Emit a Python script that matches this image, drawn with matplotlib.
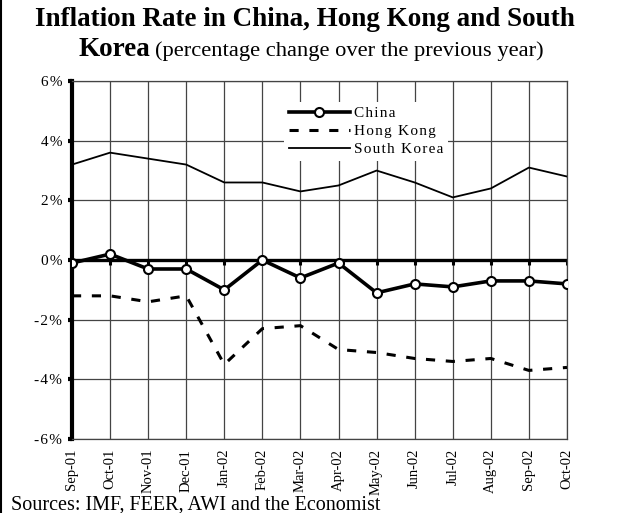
import numpy as np
import matplotlib
matplotlib.use("Agg")
import matplotlib.pyplot as plt
from matplotlib.lines import Line2D

# =========================
# Data
# =========================
months = ["Sep-01", "Oct-01", "Nov-01", "Dec-01", "Jan-02", "Feb-02", "Mar-02",
          "Apr-02", "May-02", "Jun-02", "Jul-02", "Aug-02", "Sep-02", "Oct-02"]
china = [-0.1, 0.2, -0.3, -0.3, -1.0, 0.0, -0.6, -0.1, -1.1, -0.8, -0.9, -0.7, -0.7, -0.8]
hong_kong = [-1.2, -1.2, -1.4, -1.2, -3.5, -2.3, -2.2, -3.0, -3.1, -3.3, -3.4, -3.3, -3.7, -3.6]
south_korea = [3.2, 3.6, 3.4, 3.2, 2.6, 2.6, 2.3, 2.5, 3.0, 2.6, 2.1, 2.4, 3.1, 2.8]
series_names = ["China", "Hong Kong", "South Korea"]
yticks = [-6, -4, -2, 0, 2, 4, 6]

plt.rcParams["font.family"] = ["Liberation Serif", "DejaVu Serif"]


def spaced(s):
    # mimic the letter spacing of the original
    return "\u200a".join(s)


fig = plt.figure(figsize=(6.2, 5.13), dpi=100)
ax = fig.add_axes([0.1161, 0.1442, 0.7984, 0.6978])

x = np.arange(len(months))

# grid
for xi in x[1:]:
    ax.axvline(xi, color="#444444", lw=0.9, zorder=1)
for yv in yticks:
    if yv != 0:
        ax.axhline(yv, color="#444444", lw=0.9, zorder=1)
ax.axhline(0, color="black", lw=2.4, zorder=2)
ax.plot(x, np.zeros(len(x)), ls="none", marker=3, ms=3.5, mew=2.2, color="black", zorder=2)

# series
ax.plot(x, south_korea, color="black", lw=1.3, zorder=3)
ax.plot(x, hong_kong, color="black", lw=2.2, ls=(0, (3, 3.5)), zorder=3)
ax.plot(x, china, color="black", lw=2.6, marker="o", ms=6.5, mfc="white", mec="black",
        mew=1.5, zorder=4)

ax.set_xlim(0, len(months) - 1)
ax.set_ylim(-6, 6)
ax.set_yticks(yticks)
ax.set_yticklabels([spaced(f"{v}%") for v in yticks], fontsize=11)
ax.set_xticks(x)
ax.set_xticklabels(months, rotation=90, fontsize=10.5)

ax.tick_params(axis="x", length=0, pad=7)
ax.tick_params(axis="y", length=3, width=3, pad=4)
for side in ["top", "right", "bottom"]:
    ax.spines[side].set_color("#444444")
    ax.spines[side].set_linewidth(0.9)
ax.spines["left"].set_linewidth(3)

# legend
handles = [
    Line2D([], [], color="black", lw=2.6, marker="o", ms=6.5, mfc="white", mec="black", mew=1.5),
    Line2D([], [], color="black", lw=2.2, ls=(0, (3, 3.5))),
    Line2D([], [], color="black", lw=1.3),
]
leg = ax.legend(handles, [spaced(n) for n in series_names], loc="upper left",
                bbox_to_anchor=(0.413, 0.964), frameon=True, fontsize=11,
                handlelength=4.0, handletextpad=0.25, labelspacing=0.3,
                borderpad=0.3)
leg.get_frame().set_edgecolor("none")
leg.get_frame().set_facecolor("white")
leg.get_frame().set_alpha(1)

# titles
fig.text(0.056, 0.949, "Inflation Rate in China, Hong Kong and South",
         fontsize=19.5, fontweight="bold", ha="left", va="baseline")
fig.text(0.126, 0.891, "Korea", fontsize=19.5, fontweight="bold", ha="left", va="baseline")
fig.text(0.25, 0.891, "(percentage change over the previous year)",
         fontsize=16.2, ha="left", va="baseline")
fig.text(0.018, 0.007, "Sources: IMF, FEER, AWI and the Economist",
         fontsize=14.5, ha="left", va="baseline")

fig.add_artist(Line2D([0.002, 0.002], [0, 1], color="black", lw=1.5,
                      transform=fig.transFigure))

fig.savefig("out.png", dpi=100)
